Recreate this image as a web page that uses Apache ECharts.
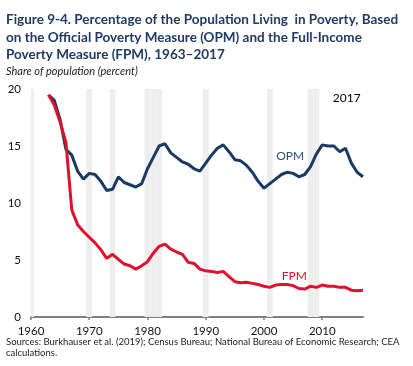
<!DOCTYPE html>
<html><head><meta charset="utf-8">
<script src="https://cdn.jsdelivr.net/npm/echarts@6/dist/echarts.min.js"></script>
<style>html,body{margin:0;padding:0;background:#fff}#c{width:413px;height:366px}</style>
</head><body><div id="c"></div>
<script>
const years = [1963,1964,1965,1966,1967,1968,1969,1970,1971,1972,1973,1974,1975,1976,1977,1978,1979,1980,1981,1982,1983,1984,1985,1986,1987,1988,1989,1990,1991,1992,1993,1994,1995,1996,1997,1998,1999,2000,2001,2002,2003,2004,2005,2006,2007,2008,2009,2010,2011,2012,2013,2014,2015,2016,2017];
const opm = [19.5,19.0,17.3,14.7,14.2,12.8,12.1,12.6,12.5,11.9,11.1,11.2,12.3,11.8,11.6,11.4,11.7,13.0,14.0,15.0,15.2,14.4,14.0,13.6,13.4,13.0,12.8,13.5,14.2,14.8,15.1,14.5,13.8,13.7,13.3,12.7,11.9,11.3,11.7,12.1,12.5,12.7,12.6,12.3,12.5,13.2,14.3,15.1,15.0,15.0,14.5,14.8,13.5,12.7,12.3];
const fpm = [19.5,18.6,17.1,15.3,9.4,8.1,7.5,7.0,6.5,5.9,5.15,5.5,5.05,4.65,4.5,4.2,4.5,4.85,5.6,6.2,6.4,5.95,5.7,5.5,4.8,4.7,4.2,4.05,4.0,3.9,4.0,3.55,3.1,3.0,3.05,2.95,2.85,2.7,2.6,2.8,2.85,2.85,2.75,2.5,2.45,2.7,2.6,2.8,2.7,2.7,2.6,2.6,2.35,2.3,2.35];
const recessionYears = [1960,1970,1974,1980,1981,1982,1990,2001,2008,2009];
const xTicks = [1960,1970,1980,1990,2000,2010];
const titleLines = ["Figure 9-4. Percentage of the Population Living  in Poverty, Based","on the Official Poverty Measure (OPM) and the Full-Income","Poverty Measure (FPM), 1963\u20132017"];
const subtitle = "Share of population (percent)";
const sourceLines = ["Sources: Burkhauser et al. (2019); Census Bureau; National Bureau of Economic Research; CEA","calculations."];

const chart = echarts.init(document.getElementById('c'), null, {renderer:'canvas'});
const FONT = 'Lato';
const NAVY = '#1b3a63';
const RED = '#e0102f';
const graphics = [];
titleLines.forEach((t,i)=>graphics.push({type:'text',left:6,top:13+i*17.5,style:{text:t,font:'bold 13.5px '+FONT,fill:'#1f3b66'}}));
graphics.push({type:'text',left:6,top:66,style:{text:subtitle,font:'italic 11px '+FONT,fill:'#222'}});
sourceLines.forEach((t,i)=>graphics.push({type:'text',left:6,top:337+i*11,style:{text:t,font:'9.5px '+FONT,fill:'#222'}}));

chart.setOption({
  animation:false,
  grid:{left:31,right:50,top:89,bottom:49},
  graphic:graphics,
  xAxis:{type:'value',min:1960,max:2017,
    axisLine:{lineStyle:{color:'#7f7f7f',width:2}},
    axisTick:{show:true,length:3,customValues:xTicks,lineStyle:{color:'#7f7f7f',width:1.5}},
    axisLabel:{customValues:xTicks,formatter:v=>String(v),color:'#111',fontFamily:FONT,fontSize:11.5,margin:8},
    splitLine:{show:false}},
  yAxis:{type:'value',min:0,max:20,interval:5,
    axisLine:{show:false},axisTick:{show:false},
    axisLabel:{color:'#111',fontFamily:FONT,fontSize:11.5,margin:10},
    splitLine:{show:false}},
  series:[
    {name:'OPM',type:'line',data:years.map((y,i)=>[y,opm[i]]),showSymbol:false,
      lineStyle:{color:NAVY,width:3},itemStyle:{color:NAVY},z:3,
      markArea:{silent:true,itemStyle:{color:'#eeeeee'},
        data:recessionYears.map(y=>[{xAxis:y-0.5},{xAxis:y+0.5}])}},
    {name:'FPM',type:'line',data:years.map((y,i)=>[y,fpm[i]]),showSymbol:false,
      lineStyle:{color:RED,width:3},itemStyle:{color:RED},z:4}
  ]
});
const lbl = [
  {text:'OPM',at:[2004.5,14.1],color:'#2c4f80'},
  {text:'FPM',at:[2005.2,3.55],color:RED},
  {text:'2017',at:[2014.2,19.2],color:'#000'}
];
chart.setOption({graphic:graphics.concat(lbl.map(l=>{const p=chart.convertToPixel({gridIndex:0},l.at);return {type:'text',x:p[0],y:p[1],style:{text:l.text,font:'12px '+FONT,fill:l.color,textAlign:'center',textVerticalAlign:'middle'}};}))});
</script></body></html>
